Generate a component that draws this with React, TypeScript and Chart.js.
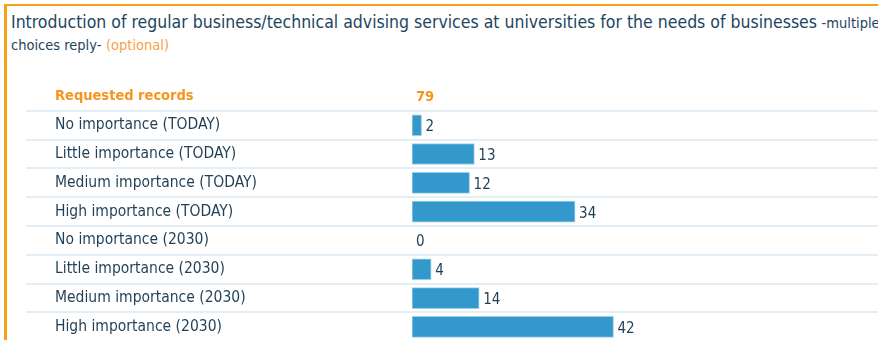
import React, { useEffect, useRef } from "react";
import { Chart, registerables } from "chart.js";

Chart.register(...registerables);

const titleMain =
  "Introduction of regular business/technical advising services at universities for the needs of businesses";
const titleNote1 = "-multiple";
const titleNote2 = "choices reply-";
const titleOptional = "(optional)";

const headerLabel = "Requested records";
const requestedRecords = 79;

const categories = [
  "No importance (TODAY)",
  "Little importance (TODAY)",
  "Medium importance (TODAY)",
  "High importance (TODAY)",
  "No importance (2030)",
  "Little importance (2030)",
  "Medium importance (2030)",
  "High importance (2030)",
];
const values = [2, 13, 12, 34, 0, 4, 14, 42];

const FONT = "'DejaVu Sans Condensed', 'DejaVu Sans', sans-serif";
const ORANGE = "#f7941d";
const TEXT = "#1f3f56";

export default function App() {
  const ref = useRef<HTMLCanvasElement | null>(null);

  useEffect(() => {
    if (!ref.current) return;
    const labels = [headerLabel, ...categories];
    const data: (number | null)[] = [null, ...values];

    const separators = {
      id: "separators",
      beforeDatasetsDraw(chart: any) {
        const ctx = chart.ctx;
        const y = chart.scales.y;
        ctx.save();
        ctx.strokeStyle = "#e3eef6";
        ctx.lineWidth = 2;
        for (let i = 0; i < labels.length - 1; i++) {
          const py = Math.round((y.getPixelForValue(i) + y.getPixelForValue(i + 1)) / 2);
          ctx.beginPath();
          ctx.moveTo(26, py);
          ctx.lineTo(chart.width, py);
          ctx.stroke();
        }
        ctx.restore();
      },
    };

    const valueLabels = {
      id: "valueLabels",
      afterDatasetsDraw(chart: any) {
        const ctx = chart.ctx;
        const meta = chart.getDatasetMeta(0);
        const xs = chart.scales.x;
        const ys = chart.scales.y;
        ctx.save();
        ctx.textBaseline = "middle";
        ctx.textAlign = "left";
        ctx.fillStyle = ORANGE;
        ctx.font = `bold 14.5px ${FONT}`;
        ctx.fillText(String(requestedRecords), xs.getPixelForValue(0) + 4, ys.getPixelForValue(0) + 1);
        ctx.fillStyle = TEXT;
        ctx.font = `15px ${FONT}`;
        meta.data.forEach((bar: any, i: number) => {
          if (i === 0) return;
          const v = data[i] as number;
          ctx.fillText(String(v), bar.x + 4, bar.y + 2);
        });
        ctx.restore();
      },
    };

    const chart = new Chart(ref.current, {
      type: "bar",
      data: {
        labels,
        datasets: [
          {
            data,
            backgroundColor: "#3399cc",
            borderColor: "#9fcfe8",
            borderWidth: 1,
            borderSkipped: false,
            barThickness: 21,
          },
        ],
      },
      options: {
        indexAxis: "y",
        animation: false,
        responsive: false,
        maintainAspectRatio: false,
        layout: { padding: { left: 55, top: 82, right: 87, bottom: 0 } },
        plugins: { legend: { display: false }, tooltip: { enabled: false } },
        scales: {
          x: {
            display: false,
            min: 0,
            max: requestedRecords,
          },
          y: {
            position: "left",
            grid: { display: false },
            border: { display: false },
            afterFit(scale: any) {
              scale.width = 357;
            },
            ticks: {
              crossAlign: "far",
              padding: 0,
              color: (c: any) => (c.index === 0 ? ORANGE : TEXT),
              font: (c: any) =>
                c.index === 0
                  ? { family: FONT, size: 14.5, weight: "bold" }
                  : { family: FONT, size: 15.5 },
            },
          },
        },
      },
      plugins: [separators, valueLabels],
    } as any);
    return () => chart.destroy();
  }, []);

  return (
    <div
      style={{
        position: "fixed",
        left: 0,
        top: 0,
        width: 878,
        height: 340,
        overflow: "hidden",
        background: "#fff",
      }}
    >
      <div
        style={{
          position: "absolute",
          left: 4,
          top: 4,
          right: -10,
          bottom: -10,
          borderTop: "2px solid #f7a11a",
          borderLeft: "3px solid #f7a11a",
        }}
      />
      <div
        style={{
          position: "absolute",
          left: 11,
          top: 12,
          whiteSpace: "nowrap",
          fontFamily: FONT,
          color: "#1d4560",
          lineHeight: "21px",
        }}
      >
        <span style={{ fontSize: 17.5 }}>{titleMain}</span>{" "}
        <span style={{ fontSize: 14.5 }}>{titleNote1}</span>
        <br />
        <span style={{ fontSize: 14.5 }}>{titleNote2}</span>{" "}
        <span style={{ fontSize: 14.5, color: "#f7a04a" }}>{titleOptional}</span>
      </div>
      <canvas
        ref={ref}
        width={878}
        height={350}
        style={{ position: "absolute", left: 0, top: 0, width: 878, height: 350 }}
      />
    </div>
  );
}
